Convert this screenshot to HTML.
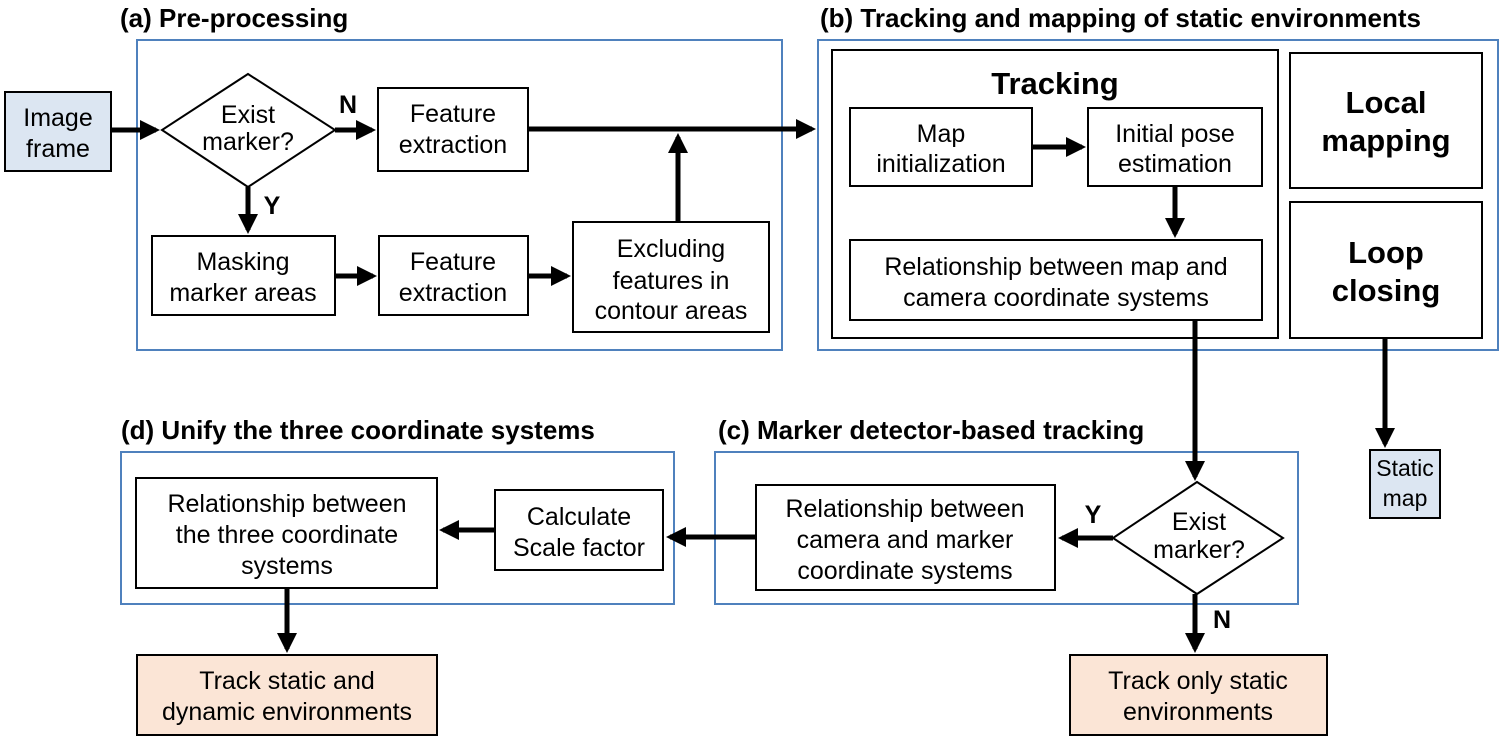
<!DOCTYPE html>
<html><head><meta charset="utf-8"><style>
html,body{margin:0;padding:0;background:#fff;}
svg{display:block;font-family:"Liberation Sans",sans-serif;}
text{font-size:25px;fill:#000;text-anchor:middle;}
.t{font-weight:bold;text-anchor:start;font-size:26px;}
.b{font-weight:bold;font-size:31px;}
.box{fill:#fff;stroke:#000;stroke-width:2;}
.sec{fill:none;stroke:#4f81bd;stroke-width:2;}
.ln{stroke:#000;stroke-width:5;fill:none;}
</style></head><body>
<svg width="1500" height="741" viewBox="0 0 1500 741">
<defs><marker id="a" markerWidth="4" markerHeight="4" refX="3.2" refY="2" orient="auto" markerUnits="strokeWidth"><path d="M0,0 L4,2 L0,4 z" fill="#000"/></marker></defs>

<text class="t" x="120" y="27">(a) Pre-processing</text>
<text class="t" x="820" y="27">(b) Tracking and mapping of static environments</text>
<text class="t" x="121" y="439">(d) Unify the three coordinate systems</text>
<text class="t" x="718" y="439">(c) Marker detector-based tracking</text>

<rect class="sec" x="137" y="40" width="645" height="310"/>
<rect class="sec" x="818" y="40" width="680" height="310"/>
<rect class="sec" x="715" y="452" width="583" height="152"/>
<rect class="sec" x="121" y="452" width="553" height="152"/>

<rect x="5" y="92" width="106" height="79" fill="#dce6f2" stroke="#000" stroke-width="2"/>
<text x="58" y="126">Image</text><text x="58" y="157">frame</text>

<polygon class="box" points="248,74 335,130 248,187 162,130"/>
<text x="248" y="123">Exist</text><text x="248" y="150">marker?</text>
<rect class="box" x="378" y="88" width="150" height="83"/>
<text x="453" y="122">Feature</text><text x="453" y="153">extraction</text>
<rect class="box" x="152" y="236" width="183" height="79"/>
<text x="243" y="270">Masking</text><text x="243" y="301">marker areas</text>
<rect class="box" x="379" y="236" width="149" height="79"/>
<text x="453" y="270">Feature</text><text x="453" y="301">extraction</text>
<rect class="box" x="573" y="222" width="196" height="110"/>
<text x="671" y="257">Excluding</text><text x="671" y="289">features in</text><text x="671" y="319">contour areas</text>
<text x="348" y="113" style="font-weight:bold">N</text>
<text x="272" y="214" style="font-weight:bold">Y</text>

<line class="ln" x1="111" y1="130" x2="156" y2="130" marker-end="url(#a)"/>
<line class="ln" x1="335" y1="130" x2="372" y2="130" marker-end="url(#a)"/>
<line class="ln" x1="248" y1="187" x2="248" y2="230" marker-end="url(#a)"/>
<line class="ln" x1="335" y1="276" x2="373" y2="276" marker-end="url(#a)"/>
<line class="ln" x1="528" y1="276" x2="567" y2="276" marker-end="url(#a)"/>
<line class="ln" x1="678" y1="222" x2="678" y2="137" marker-end="url(#a)"/>
<line class="ln" x1="528" y1="129" x2="812" y2="129" marker-end="url(#a)"/>

<rect class="box" x="832" y="50" width="446" height="288"/>
<text class="b" x="1055" y="94">Tracking</text>
<rect class="box" x="850" y="108" width="182" height="78"/>
<text x="941" y="142">Map</text><text x="941" y="172">initialization</text>
<rect class="box" x="1088" y="108" width="174" height="78"/>
<text x="1175" y="142">Initial pose</text><text x="1175" y="172">estimation</text>
<rect class="box" x="850" y="240" width="412" height="80"/>
<text x="1056" y="275">Relationship between map and</text><text x="1056" y="306">camera coordinate systems</text>
<line class="ln" x1="1032" y1="147" x2="1082" y2="147" marker-end="url(#a)"/>
<line class="ln" x1="1175" y1="186" x2="1175" y2="234" marker-end="url(#a)"/>

<rect class="box" x="1290" y="53" width="192" height="135"/>
<text class="b" x="1386" y="113">Local</text><text class="b" x="1386" y="151">mapping</text>
<rect class="box" x="1290" y="202" width="192" height="136"/>
<text class="b" x="1386" y="263">Loop</text><text class="b" x="1386" y="301">closing</text>
<line class="ln" x1="1385" y1="338" x2="1385" y2="444" marker-end="url(#a)"/>
<rect x="1370" y="450" width="70" height="68" fill="#dce6f2" stroke="#000" stroke-width="2"/>
<text x="1405" y="476" style="font-size:23px">Static</text><text x="1405" y="506" style="font-size:23px">map</text>

<line class="ln" x1="1195" y1="320" x2="1195" y2="477" marker-end="url(#a)"/>
<polygon class="box" points="1197,482 1283,538 1197,594 1113,538"/>
<text x="1199" y="530">Exist</text><text x="1199" y="558">marker?</text>
<rect class="box" x="756" y="485" width="299" height="105"/>
<text x="905" y="517">Relationship between</text><text x="905" y="548">camera and marker</text><text x="905" y="579">coordinate systems</text>
<line class="ln" x1="1113" y1="538" x2="1062" y2="538" marker-end="url(#a)"/>
<text x="1093" y="523" style="font-weight:bold">Y</text>
<line class="ln" x1="1195" y1="594" x2="1195" y2="649" marker-end="url(#a)"/>
<text x="1222" y="628" style="font-weight:bold">N</text>
<rect x="1070" y="655" width="257" height="80" fill="#fbe5d6" stroke="#000" stroke-width="2"/>
<text x="1198" y="689">Track only static</text><text x="1198" y="720">environments</text>

<rect class="box" x="495" y="490" width="168" height="80"/>
<text x="579" y="525">Calculate</text><text x="579" y="556">Scale factor</text>
<line class="ln" x1="756" y1="537" x2="670" y2="537" marker-end="url(#a)"/>
<rect class="box" x="136" y="478" width="301" height="110"/>
<text x="287" y="512">Relationship between</text><text x="287" y="543">the three coordinate</text><text x="287" y="574">systems</text>
<line class="ln" x1="495" y1="530" x2="443" y2="530" marker-end="url(#a)"/>
<line class="ln" x1="287" y1="588" x2="287" y2="649" marker-end="url(#a)"/>
<rect x="137" y="655" width="300" height="80" fill="#fbe5d6" stroke="#000" stroke-width="2"/>
<text x="287" y="689">Track static and</text><text x="287" y="720">dynamic environments</text>
</svg>
</body></html>
